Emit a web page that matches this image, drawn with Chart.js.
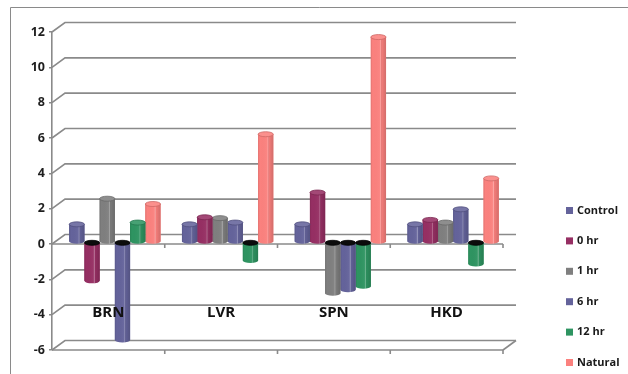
<!DOCTYPE html>
<html>
<head>
<meta charset="utf-8">
<script src="https://cdn.jsdelivr.net/npm/chart.js@4/dist/chart.umd.min.js"></script>
<style>
  html, body { margin: 0; padding: 0; background: #ffffff; }
  #wrap { width: 628px; height: 374px; position: relative; }
</style>
</head>
<body>
<div id="wrap"><canvas id="chart"></canvas></div>
<script>
// Relative expression per tissue and treatment time
const categories = ['BRN', 'LVR', 'SPN', 'HKD'];
const seriesNames = ['Control', '0 hr', '1 hr', '6 hr', '12 hr', 'Natural'];
const controlValues = [1.0, 1.0, 1.0, 1.0];
const hr0Values = [-2.2, 1.4, 2.8, 1.25];
const hr1Values = [2.45, 1.35, -2.9, 1.1];
const hr6Values = [-5.55, 1.1, -2.7, 1.85];
const hr12Values = [1.1, -1.05, -2.5, -1.25];
const naturalValues = [2.15, 6.1, 11.6, 3.6];
const yMin = -6, yMax = 12, yStep = 2;

const seriesValues = [controlValues, hr0Values, hr1Values, hr6Values, hr12Values, naturalValues];
const seriesColors = ['#64639b', '#962f63', '#7f7f7f', '#64639b', '#2e9461', '#fb817e'];

const FONT = '"Open Sans", Lato, "Liberation Sans", sans-serif';
const LINE = '#8a8a8a';
const DEPTH_X = 13, DEPTH_Y = -9.5;      // back wall offset of the 3-D frame
const BAR_DX = 6.5, BAR_DY = -2;         // columns stand a little behind the front plane
const CAP_RY = 2.5;                      // vertical radius of the cylinder ends

function shade(hex, f) {
  const n = parseInt(hex.slice(1), 16);
  let r = (n >> 16) & 255, g = (n >> 8) & 255, b = n & 255;
  if (f >= 0) { r += (255 - r) * f; g += (255 - g) * f; b += (255 - b) * f; }
  else { r *= 1 + f; g *= 1 + f; b *= 1 + f; }
  return `rgb(${Math.round(r)},${Math.round(g)},${Math.round(b)})`;
}

const frame3d = {
  id: 'frame3d',
  beforeDraw(chart) {
    const ctx = chart.ctx;
    ctx.save();
    ctx.strokeStyle = '#8a8a8a';
    ctx.lineWidth = 1;
    ctx.beginPath();
    ctx.moveTo(10.5, chart.height);
    ctx.lineTo(10.5, 7.5);
    ctx.lineTo(chart.width, 7.5);
    ctx.stroke();
    ctx.restore();
  },
  beforeDatasetsDraw(chart) {
    const { ctx, chartArea: a, scales: { x, y } } = chart;
    ctx.save();
    ctx.strokeStyle = LINE;
    ctx.lineWidth = 1.6;
    // back wall gridlines with the receding edge from the value axis
    for (let v = yMin; v <= yMax; v += yStep) {
      const py = y.getPixelForValue(v);
      ctx.beginPath();
      ctx.moveTo(a.left, py);
      ctx.lineTo(a.left + DEPTH_X, py + DEPTH_Y);
      ctx.lineTo(a.right + DEPTH_X, py + DEPTH_Y);
      ctx.stroke();
    }
    // front edges at zero and at the floor, with category tick marks
    const step = x.getPixelForValue(1) - x.getPixelForValue(0);
    [0, yMin].forEach(v => {
      const py = y.getPixelForValue(v);
      ctx.beginPath();
      ctx.moveTo(a.left, py);
      ctx.lineTo(a.right, py);
      for (let i = 0; i < categories.length; i++) {
        const px = x.getPixelForValue(i) + step / 2;
        ctx.moveTo(px, py);
        ctx.lineTo(px, py + 4);
      }
      ctx.stroke();
    });
    const pf = y.getPixelForValue(yMin);
    ctx.beginPath();
    ctx.moveTo(a.right, pf);
    ctx.lineTo(a.right + DEPTH_X, pf + DEPTH_Y);
    ctx.stroke();
    ctx.restore();

    ctx.save();
    ctx.translate(BAR_DX, BAR_DY);
  },
  afterDatasetDraw(chart, args) {
    const ctx = chart.ctx;
    const color = seriesColors[args.index];
    args.meta.data.forEach(el => {
      const { x: cx, y: vy, base, width: w } = el.getProps(['x', 'y', 'base', 'width'], true);
      const l = cx - w / 2, r = cx + w / 2, rx = w / 2;
      const top = Math.min(vy, base), bottom = Math.max(vy, base);
      const positive = vy < base;

      // cylinder body with rounded bottom
      ctx.beginPath();
      ctx.moveTo(l, top);
      ctx.lineTo(r, top);
      ctx.lineTo(r, bottom);
      ctx.ellipse(cx, bottom, rx, CAP_RY, 0, 0, Math.PI);
      ctx.closePath();
      ctx.fillStyle = color;
      ctx.fill();
      const g = ctx.createLinearGradient(l, 0, r, 0);
      g.addColorStop(0, 'rgba(0,0,0,0.10)');
      g.addColorStop(0.12, 'rgba(0,0,0,0)');
      g.addColorStop(0.58, 'rgba(255,255,255,0.04)');
      g.addColorStop(0.66, 'rgba(255,255,255,0.30)');
      g.addColorStop(0.72, 'rgba(0,0,0,0.04)');
      g.addColorStop(1, 'rgba(0,0,0,0.16)');
      ctx.fillStyle = g;
      ctx.fill();

      // top end: lit cap on rising columns, dark opening on falling ones
      ctx.beginPath();
      ctx.ellipse(cx, top, rx, CAP_RY, 0, 0, Math.PI * 2);
      ctx.fillStyle = positive ? shade(color, 0.12) : '#0c0c0c';
      ctx.fill();
      ctx.lineWidth = 0.8;
      ctx.strokeStyle = positive ? shade(color, -0.18) : '#000000';
      ctx.stroke();
    });
  },
  afterDatasetsDraw(chart) {
    const { ctx, scales: { x, y } } = chart;
    ctx.restore();

    // category names
    ctx.save();
    ctx.font = `bold 15px ${FONT}`;
    ctx.fillStyle = '#111111';
    ctx.textAlign = 'center';
    ctx.textBaseline = 'middle';
    const ly = y.getPixelForValue(-4) - 1.5;
    categories.forEach((c, i) => ctx.fillText(c, x.getPixelForValue(i), ly));

    // legend
    ctx.font = `bold 11px ${FONT}`;
    ctx.textAlign = 'left';
    seriesNames.forEach((name, i) => {
      const cy = 210.5 + i * 30.4;
      ctx.fillStyle = seriesColors[i];
      ctx.fillRect(566, cy - 3.5, 7, 7);
      ctx.fillStyle = '#1a1a1a';
      ctx.fillText(name, 577, cy);
    });
    ctx.restore();
  }
};

new Chart(document.getElementById('chart'), {
  type: 'bar',
  data: {
    labels: categories,
    datasets: seriesNames.map((name, i) => ({
      label: name,
      data: seriesValues[i],
      backgroundColor: seriesColors[i],
      borderWidth: 0,
      categoryPercentage: 0.81,
      barPercentage: 1.0,
      clip: false
    }))
  },
  options: {
    responsive: true,
    maintainAspectRatio: false,
    animation: false,
    devicePixelRatio: 1,
    layout: { padding: { left: 0, top: 32, right: 125, bottom: 24 } },
    plugins: { legend: { display: false }, tooltip: { enabled: false } },
    scales: {
      x: { display: false, offset: true },
      y: {
        min: yMin,
        max: yMax,
        ticks: { stepSize: yStep, padding: 4, color: '#1e1e1e', font: { family: FONT, size: 12.5, weight: 'bold' } },
        grid: { drawOnChartArea: false, tickLength: 3, color: LINE, lineWidth: 1.6 },
        border: { color: LINE, width: 1.6 },
        afterFit(scale) { scale.width = 52; }
      }
    }
  },
  plugins: [frame3d]
});
</script>
</body>
</html>
